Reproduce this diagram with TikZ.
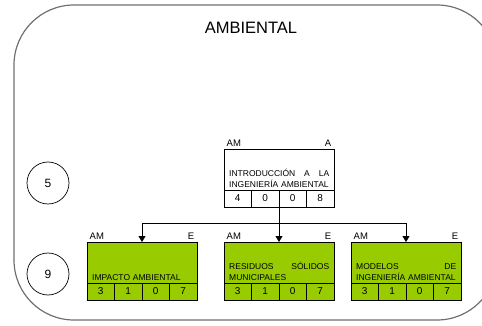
\documentclass[tikz,border=0pt]{standalone}
\usepackage{fontspec}
\setmainfont{Liberation Sans}
\usetikzlibrary{arrows.meta,positioning}
\definecolor{borde}{RGB}{112,112,112}
\definecolor{verde}{RGB}{153,204,0}

\begin{document}
\begin{tikzpicture}[x=1pt,y=-1pt,>={Triangle[length=6pt,width=7pt]},
  curso/.style={draw,line width=0.7pt,minimum width=110pt,minimum height=41pt,anchor=north west,inner sep=0pt,outer sep=0pt},
  texto/.style={anchor=south west,text width=100pt,align=left,inner xsep=5pt,inner ysep=2.5pt,font=\fontsize{8.5}{10.5}\selectfont},
  celda/.style={draw,line width=0.7pt,minimum width=27.5pt,minimum height=17pt,inner sep=0pt,outer sep=0pt,font=\fontsize{10}{12}\selectfont},
  etiq/.style={inner xsep=2.5pt,inner ysep=2.5pt,font=\fontsize{9.5}{11}\selectfont},
  nivel/.style={draw,circle,line width=0.7pt,minimum size=42pt,inner sep=0pt,font=\fontsize{12}{14}\selectfont}]
 \useasboundingbox (0,0) rectangle (482,326);
 \clip (0,0) rectangle (482,326);
 % marco del area
 \draw[borde,line width=1.2pt,rounded corners=60pt] (14,5) rectangle (497,320);
 \node[font=\fontsize{16.5}{18}\selectfont] (titulo) at (251,27.5) {AMBIENTAL};
 % semestres
 \node[nivel] (n5) at (48,183) {5};
 \node[nivel] (n9) at (48,274) {9};
 % curso base
 \node[curso,fill=white] (intro) at (224,149) {};
 \node[texto] (intro-t) at (intro.south west) {INTRODUCCIÓN \hfill A \hfill LA\\INGENIERÍA AMBIENTAL};
 \node[etiq,anchor=south west] (intro-a) at (intro.north west) {AM};
 \node[etiq,anchor=south east] (intro-b) at (intro.north east) {A};
 \node[celda,fill=white,anchor=north west] (intro-1) at (intro.south west) {4};
 \node[celda,fill=white,right=0pt of intro-1] (intro-2) {0};
 \node[celda,fill=white,right=0pt of intro-2] (intro-3) {0};
 \node[celda,fill=white,right=0pt of intro-3] (intro-4) {8};
 % electivas
 \node[curso,fill=verde] (impacto) at (87,242) {};
 \node[texto] (impacto-t) at (impacto.south west) {IMPACTO AMBIENTAL};
 \node[etiq,anchor=south west] (impacto-a) at (impacto.north west) {AM};
 \node[etiq,anchor=south east] (impacto-b) at (impacto.north east) {E};
 \node[celda,fill=verde,anchor=north west] (impacto-1) at (impacto.south west) {3};
 \node[celda,fill=verde,right=0pt of impacto-1] (impacto-2) {1};
 \node[celda,fill=verde,right=0pt of impacto-2] (impacto-3) {0};
 \node[celda,fill=verde,right=0pt of impacto-3] (impacto-4) {7};
 \node[curso,fill=verde] (residuos) at (224,242) {};
 \node[texto] (residuos-t) at (residuos.south west) {RESIDUOS \hfill SÓLIDOS\\MUNICIPALES};
 \node[etiq,anchor=south west] (residuos-a) at (residuos.north west) {AM};
 \node[etiq,anchor=south east] (residuos-b) at (residuos.north east) {E};
 \node[celda,fill=verde,anchor=north west] (residuos-1) at (residuos.south west) {3};
 \node[celda,fill=verde,right=0pt of residuos-1] (residuos-2) {1};
 \node[celda,fill=verde,right=0pt of residuos-2] (residuos-3) {0};
 \node[celda,fill=verde,right=0pt of residuos-3] (residuos-4) {7};
 \node[curso,fill=verde] (modelos) at (351,242) {};
 \node[texto] (modelos-t) at (modelos.south west) {MODELOS \hfill DE\\INGENIERÍA AMBIENTAL};
 \node[etiq,anchor=south west] (modelos-a) at (modelos.north west) {AM};
 \node[etiq,anchor=south east] (modelos-b) at (modelos.north east) {E};
 \node[celda,fill=verde,anchor=north west] (modelos-1) at (modelos.south west) {3};
 \node[celda,fill=verde,right=0pt of modelos-1] (modelos-2) {1};
 \node[celda,fill=verde,right=0pt of modelos-2] (modelos-3) {0};
 \node[celda,fill=verde,right=0pt of modelos-3] (modelos-4) {7};
 % prerrequisitos
 \coordinate (bus) at (279,223);
 \draw[line width=0.8pt] (intro-2.south east) -- (bus);
 \draw[line width=0.8pt,->] (bus) -- (residuos.north);
 \draw[line width=0.8pt,->] (bus) -| (impacto.north);
 \draw[line width=0.8pt,->] (bus) -| (modelos.north);
\end{tikzpicture}
\end{document}
